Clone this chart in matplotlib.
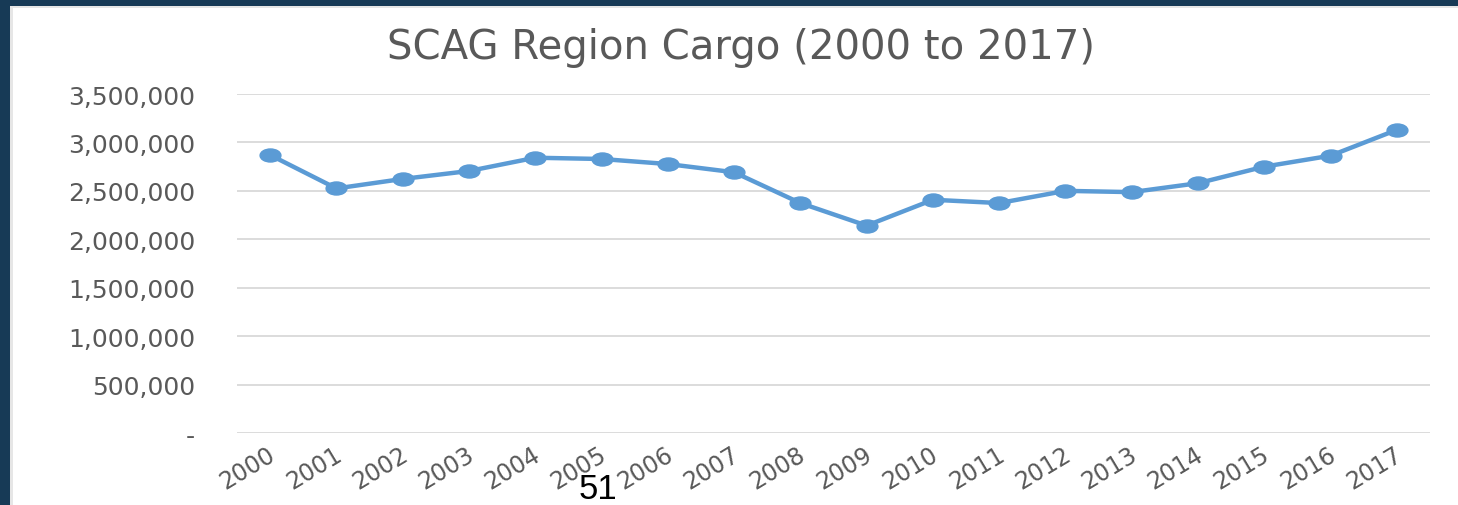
import numpy as np
import matplotlib.pyplot as plt
import matplotlib.ticker as mticker
from matplotlib.patches import Rectangle
from matplotlib.path import Path
from matplotlib.markers import MarkerStyle
from matplotlib.transforms import Affine2D

years = [str(y) for y in range(2000, 2018)]
cargo = [2870000, 2525000, 2623000, 2705000, 2842000, 2829000, 2777000, 2692000, 2374000,
         2141000, 2408000, 2374000, 2500000, 2487000, 2579000, 2750000, 2863000, 3130000]
yticks = [0, 500000, 1000000, 1500000, 2000000, 2500000, 3000000, 3500000]

W, H = 1458, 506
fig = plt.figure(figsize=(W / 100, H / 100), dpi=100)
fig.patch.set_facecolor('#173a56')
# white slide area with a thin grey edge
fig.patches.append(Rectangle((10 / W, 0), 1, 1 - 7 / H, transform=fig.transFigure,
                             facecolor='#e6e6e6', edgecolor='none', zorder=-2))
fig.patches.append(Rectangle((13 / W, 0), 1, 1 - 9 / H, transform=fig.transFigure,
                             facecolor='white', edgecolor='none', zorder=-1))

ax = fig.add_axes([237 / W, 1 - 434 / H, (1430 - 237) / W, (434 - 95) / H])
ax.set_zorder(2)
ax.set_facecolor('none')

# wide (stretched) ellipse marker
ellipse = Path.unit_circle().transformed(Affine2D().scale(1.6, 1.0))
x = np.arange(len(years))
ax.plot(x, cargo, color='#5b9bd5', lw=3.2, marker=MarkerStyle(ellipse),
        markersize=15, solid_capstyle='round', zorder=3)

ax.set_xlim(-0.5, len(years) - 0.5)
ax.set_ylim(0, 3500000)
ax.set_yticks(yticks)
ax.yaxis.set_major_formatter(mticker.FuncFormatter(lambda v, p: '-' if v == 0 else f'{int(v):,}'))
ax.grid(axis='y', color='#d9d9d9', lw=1.3)
ax.set_axisbelow(True)
for s in ax.spines.values():
    s.set_visible(False)
ax.tick_params(axis='y', length=0, pad=30, labelsize=18, labelcolor='#595959')
ax.set_xticks(x)
ax.set_xticklabels(years)
ax.tick_params(axis='x', length=0, pad=4, labelsize=17, labelcolor='#595959')
for lab in ax.get_xticklabels():
    lab.set_rotation(31)
    lab.set_ha('right')
    lab.set_va('top')
    lab.set_rotation_mode('anchor')
    lab.set_transform(lab.get_transform() + Affine2D().translate(-3, -3))

fig.text(741 / W, 1 - 48 / H, 'SCAG Region Cargo (2000 to 2017)', ha='center', va='center',
         fontsize=29, color='#595959', zorder=3)
fig.text(598 / W, 1 - 490 / H, '51', ha='center', va='center', fontsize=25,
         family='Liberation Sans', color='black', zorder=3)

fig.savefig('out.png', dpi=100, facecolor=fig.get_facecolor())
